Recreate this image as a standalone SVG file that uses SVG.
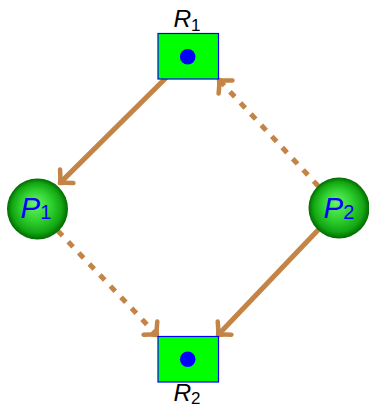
<svg xmlns="http://www.w3.org/2000/svg" width="369" height="409" viewBox="0 0 369 409">
<style>
.rect{fill:#00ff00;stroke:#0000ff;stroke-width:1.2}
.dot{fill:#0000ff}
.ball{fill:url(#ballgrad)}
.lbl{font-family:"Liberation Sans",Arial,sans-serif;font-style:italic;fill:#000}
.plbl{font-family:"Liberation Sans",Arial,sans-serif;font-style:italic;fill:#0000ff}
.sub{font-style:normal}
.edge{fill:none;stroke:#c38446;stroke-width:5}
.dash{stroke-dasharray:7 8.3}
.head{fill:none;stroke:#c38446;stroke-width:4.5;stroke-linecap:round;stroke-linejoin:round;stroke-dasharray:none}
</style>
<defs>
<radialGradient id="ballgrad" cx="0.5" cy="0.5" r="0.5" fx="0.45" fy="0.4">
<stop offset="0" stop-color="#6af56a"/>
<stop offset="0.5" stop-color="#2fd02f"/>
<stop offset="0.82" stop-color="#13a613"/>
<stop offset="1" stop-color="#006a00"/>
</radialGradient>
<marker id="arr" markerUnits="userSpaceOnUse" markerWidth="30" markerHeight="30" viewBox="-15 -15 30 30" refX="0" refY="0" orient="auto" overflow="visible">
<path class="head" d="M -6.5,-9.5 Q 0,-2 3,0 Q 0,2 -6.5,9.5"/>
</marker>
</defs>
<g id="connectors">
<path class="edge" d="M 183,61 L 62.1,180.9" marker-end="url(#arr)"/>
<path class="edge dash" d="M 318.4,186.2 L 221.1,82.2" marker-end="url(#arr)"/>
<path class="edge dash" d="M 57.7,230.7 L 154.9,332.8" marker-end="url(#arr)"/>
<path class="edge" d="M 318.3,229.7 L 220.1,332.8" marker-end="url(#arr)"/>
</g>
<g id="R1">
<rect class="rect" x="158" y="33.5" width="60.5" height="45.5"/>
<circle class="dot" cx="187.7" cy="56.7" r="7.8"/>
<text class="lbl" x="187" y="27" font-size="24.5" text-anchor="middle">R<tspan class="sub" font-size="17" dy="3.5">1</tspan></text>
</g>
<g id="R2">
<rect class="rect" x="158" y="336.5" width="60.5" height="45.5"/>
<circle class="dot" cx="187.7" cy="359.3" r="7.8"/>
<text class="lbl" x="187" y="401" font-size="24.5" text-anchor="middle">R<tspan class="sub" font-size="17" dy="3">2</tspan></text>
</g>
<g id="P1">
<circle class="ball" cx="37.5" cy="209" r="30.5"/>
<text class="plbl" x="36" y="218" font-size="29.5" text-anchor="middle">P<tspan class="sub" font-size="20" dy="1">1</tspan></text>
</g>
<g id="P2">
<circle class="ball" cx="339" cy="208" r="30.5"/>
<text class="plbl" x="339" y="218" font-size="29.5" text-anchor="middle">P<tspan class="sub" font-size="20" dy="1">2</tspan></text>
</g>
</svg>
